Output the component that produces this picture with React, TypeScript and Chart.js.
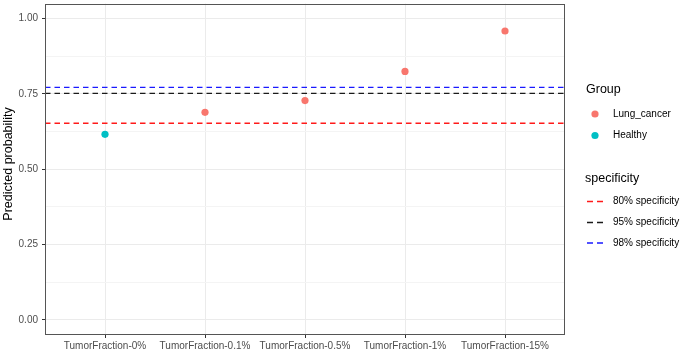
import React, { useEffect, useRef } from "react";
import { Chart, registerables } from "chart.js";

Chart.register(...registerables);

// ---- data ----
const categories = [
  "TumorFraction-0%",
  "TumorFraction-0.1%",
  "TumorFraction-0.5%",
  "TumorFraction-1%",
  "TumorFraction-15%",
];
const pointGroup = ["Healthy", "Lung_cancer", "Lung_cancer", "Lung_cancer", "Lung_cancer"];
const predicted = [0.616, 0.689, 0.728, 0.825, 0.959];

const groupNames = ["Lung_cancer", "Healthy"];
const groupColors = ["#F8766D", "#00BFC4"];

const specificityLabels = ["80% specificity", "95% specificity", "98% specificity"];
const specificityThresholds = [0.653, 0.752, 0.772];
const specificityColors = ["#FF1A1A", "#1A1A1A", "#1A1AFF"];

const yMajorTicks = [0, 0.25, 0.5, 0.75, 1.0];
const yMinorTicks = [0.125, 0.375, 0.625, 0.875];

const X_MIN = 0.4;
const X_MAX = 5.6;
const Y_MIN = -0.05;
const Y_MAX = 1.05;

const FONT = "'Liberation Sans', Arial, Helvetica, sans-serif";

const isMajor = (v: number) => yMajorTicks.some((t) => Math.abs(t - v) < 1e-6);

const decorPlugin = {
  id: "decor",
  afterDraw(chart: any) {
    const { ctx, chartArea } = chart;
    ctx.save();
    // panel border
    ctx.strokeStyle = "#555555";
    ctx.lineWidth = 1;
    ctx.strokeRect(
      Math.round(chartArea.left) + 0.5,
      Math.round(chartArea.top) + 0.5,
      Math.round(chartArea.right - chartArea.left) - 1,
      Math.round(chartArea.bottom - chartArea.top) - 1
    );

    // y axis title
    ctx.fillStyle = "#000000";
    ctx.font = `12.5px ${FONT}`;
    ctx.save();
    ctx.translate(12, 164);
    ctx.rotate(-Math.PI / 2);
    ctx.textAlign = "center";
    ctx.textBaseline = "alphabetic";
    ctx.fillText("Predicted probability", 0, 0);
    ctx.restore();

    // legend: Group
    const titleX = 586;
    const keyX = 595;
    const textX = 613;
    ctx.textAlign = "left";
    ctx.textBaseline = "middle";
    ctx.font = `12.5px ${FONT}`;
    ctx.fillText("Group", titleX, 90);
    const groupY = [114, 135.5];
    ctx.font = `10px ${FONT}`;
    groupNames.forEach((g, i) => {
      ctx.fillStyle = groupColors[i];
      ctx.beginPath();
      ctx.arc(keyX, groupY[i], 3.6, 0, Math.PI * 2);
      ctx.fill();
      ctx.fillStyle = "#000000";
      ctx.fillText(g, textX, groupY[i]);
    });

    // legend: specificity
    ctx.font = `12.5px ${FONT}`;
    ctx.fillText("specificity", titleX - 1, 179);
    const specY = [201.5, 222.5, 243];
    ctx.font = `10px ${FONT}`;
    specificityLabels.forEach((s, i) => {
      ctx.strokeStyle = specificityColors[i];
      ctx.lineWidth = 1.3;
      ctx.setLineDash([6, 4]);
      ctx.beginPath();
      ctx.moveTo(587, specY[i]);
      ctx.lineTo(603, specY[i]);
      ctx.stroke();
      ctx.setLineDash([]);
      ctx.fillStyle = "#000000";
      ctx.fillText(s, textX, specY[i]);
    });
    ctx.restore();
  },
};

export default function App() {
  const canvasRef = useRef<HTMLCanvasElement | null>(null);

  useEffect(() => {
    const canvas = canvasRef.current;
    if (!canvas) return;

    const pointDatasets = groupNames.map((g, gi) => ({
      type: "scatter" as const,
      label: g,
      data: categories
        .map((_, i) => (pointGroup[i] === g ? { x: i + 1, y: predicted[i] } : null))
        .filter((p) => p !== null),
      backgroundColor: groupColors[gi],
      borderWidth: 0,
      pointRadius: 3.6,
      pointHoverRadius: 3.6,
      order: 2,
    }));

    const lineDatasets = specificityLabels.map((s, i) => ({
      type: "line" as const,
      label: s,
      data: [
        { x: X_MIN, y: specificityThresholds[i] },
        { x: X_MAX, y: specificityThresholds[i] },
      ],
      borderColor: specificityColors[i],
      borderWidth: 1.4,
      borderDash: [5.5, 4],
      pointRadius: 0,
      showLine: true,
      fill: false,
      order: 1,
    }));

    const chart = new Chart(canvas, {
      type: "scatter",
      data: { datasets: [...pointDatasets, ...lineDatasets] as any },
      options: {
        animation: false,
        responsive: false,
        devicePixelRatio: 1,
        layout: { padding: { left: 0, top: 3, right: 120, bottom: 0 } },
        plugins: {
          legend: { display: false },
          tooltip: { enabled: false },
        },
        scales: {
          x: {
            type: "linear",
            min: X_MIN,
            max: X_MAX,
            afterBuildTicks: (scale: any) => {
              scale.ticks = categories.map((_, i) => ({ value: i + 1 }));
            },
            afterFit: (scale: any) => {
              scale.height = 17;
              scale.paddingLeft = 0;
              scale.paddingRight = 0;
              scale.paddingTop = 0;
              scale.paddingBottom = 0;
            },
            ticks: {
              autoSkip: false,
              maxRotation: 0,
              padding: 2,
              color: "#4D4D4D",
              font: { family: FONT, size: 10 },
              callback: (v: any) => categories[Math.round(Number(v)) - 1] ?? "",
            },
            grid: {
              color: "#EBEBEB",
              lineWidth: 1,
              tickLength: 3,
              tickColor: "#333333",
              drawTicks: true,
            },
            border: { display: false },
          },
          y: {
            type: "linear",
            min: Y_MIN,
            max: Y_MAX,
            afterBuildTicks: (scale: any) => {
              scale.ticks = [...yMajorTicks, ...yMinorTicks]
                .sort((a, b) => a - b)
                .map((v) => ({ value: v }));
            },
            afterFit: (scale: any) => {
              scale.width = 45;
              scale.paddingLeft = 0;
              scale.paddingRight = 0;
              scale.paddingTop = 0;
              scale.paddingBottom = 0;
            },
            ticks: {
              autoSkip: false,
              padding: 4,
              color: "#4D4D4D",
              font: { family: FONT, size: 10 },
              callback: (v: any) => (isMajor(Number(v)) ? Number(v).toFixed(2) : ""),
            },
            grid: {
              color: (ctx: any) => (ctx.tick && isMajor(ctx.tick.value) ? "#EBEBEB" : "#F4F4F4"),
              lineWidth: 1,
              tickLength: 3,
              tickColor: (ctx: any) =>
                ctx.tick && isMajor(ctx.tick.value) ? "#333333" : "rgba(0,0,0,0)",
              drawTicks: true,
            },
            border: { display: false },
          },
        },
      },
      plugins: [decorPlugin],
    });

    return () => {
      chart.destroy();
    };
  }, []);

  return (
    <div style={{ position: "absolute", left: 0, top: 0, width: 685, height: 352, background: "#ffffff" }}>
      <canvas ref={canvasRef} width={685} height={352} style={{ width: 685, height: 352 }} />
    </div>
  );
}
